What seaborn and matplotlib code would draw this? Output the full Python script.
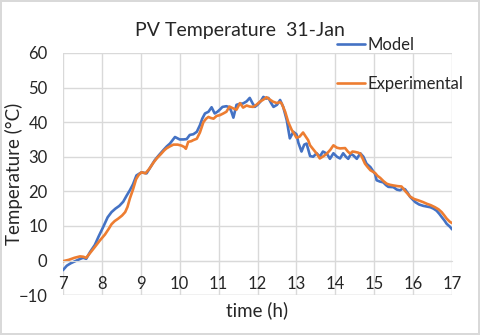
import matplotlib
matplotlib.use("Agg")
import matplotlib.pyplot as plt
import seaborn as sns
import pandas as pd

# ------------------------------------------------------------
# data
# ------------------------------------------------------------
model_time = [7.00, 7.10, 7.20, 7.35, 7.45, 7.52, 7.60, 7.70, 7.82, 7.92,
              8.04, 8.15, 8.25, 8.35, 8.45, 8.55, 8.64, 8.72, 8.80, 8.89,
              9.02, 9.15, 9.25, 9.36, 9.47, 9.58, 9.67, 9.75, 9.88, 10.00,
              10.10, 10.18, 10.26, 10.35, 10.44, 10.52, 10.58, 10.65, 10.74, 10.82,
              10.90, 10.97, 11.03, 11.10, 11.20, 11.28, 11.33, 11.38, 11.46, 11.55,
              11.63, 11.72, 11.80, 11.87, 11.93, 12.00, 12.08, 12.15, 12.22, 12.28,
              12.35, 12.41, 12.50, 12.58, 12.66, 12.75, 12.83, 12.92, 13.00, 13.05,
              13.13, 13.20, 13.26, 13.35, 13.43, 13.52, 13.60, 13.68, 13.78, 13.86,
              13.95, 14.04, 14.12, 14.20, 14.27, 14.33, 14.40, 14.46, 14.55, 14.64,
              14.72, 14.80, 14.90, 14.96, 15.02, 15.06, 15.15, 15.23, 15.30, 15.36,
              15.49, 15.58, 15.66, 15.73, 15.79, 15.86, 15.92, 16.05, 16.15, 16.26,
              16.35, 16.44, 16.52, 16.60, 16.67, 16.73, 16.80, 16.86, 16.94, 17.00]
model_temp = [-2.8, -1.5, -0.8, 0.0, 0.5, 0.8, 0.5, 2.5, 4.5, 7.0,
              9.8, 12.5, 14.0, 15.0, 15.8, 17.0, 18.8, 20.3, 22.0, 24.6,
              25.5, 25.2, 27.0, 29.0, 30.5, 31.9, 33.0, 33.8, 35.7, 35.0,
              35.0, 35.1, 36.3, 36.5, 37.2, 39.1, 41.0, 42.5, 43.0, 44.3,
              42.5, 43.0, 43.6, 44.4, 44.6, 44.3, 43.0, 41.3, 45.0, 45.3,
              45.4, 46.0, 47.0, 45.5, 44.4, 45.0, 46.0, 47.3, 46.8, 47.0,
              45.5, 44.4, 45.0, 46.4, 44.4, 40.6, 35.3, 37.2, 36.5, 34.0,
              31.5, 33.5, 33.8, 30.2, 30.0, 31.0, 30.0, 31.5, 30.9, 29.4,
              31.0, 30.0, 29.5, 31.0, 30.0, 29.4, 30.8, 30.4, 29.4, 31.0,
              30.0, 28.0, 27.0, 26.0, 25.0, 23.2, 22.8, 22.6, 21.8, 21.3,
              21.2, 20.5, 20.3, 20.8, 20.6, 19.5, 18.4, 16.9, 16.2, 15.8,
              15.6, 15.4, 15.0, 14.4, 13.5, 12.6, 11.6, 10.6, 9.8, 9.0]

exp_time = [7.00, 7.15, 7.30, 7.44, 7.52, 7.60, 7.70, 7.82, 7.95, 8.08,
            8.18, 8.25, 8.33, 8.42, 8.52, 8.60, 8.66, 8.72, 8.80, 8.88,
            8.95, 9.02, 9.12, 9.22, 9.32, 9.41, 9.52, 9.60, 9.66, 9.75,
            9.84, 9.95, 10.05, 10.12, 10.16, 10.22, 10.30, 10.35, 10.44, 10.52,
            10.61, 10.68, 10.74, 10.80, 10.87, 10.95, 11.03, 11.12, 11.20, 11.28,
            11.37, 11.46, 11.55, 11.63, 11.72, 11.80, 11.89, 11.97, 12.06, 12.15,
            12.23, 12.32, 12.40, 12.50, 12.58, 12.62, 12.71, 12.79, 12.88, 12.95,
            13.00, 13.08, 13.17, 13.24, 13.30, 13.35, 13.42, 13.52, 13.60, 13.70,
            13.78, 13.87, 13.95, 14.04, 14.12, 14.25, 14.32, 14.38, 14.44, 14.50,
            14.58, 14.64, 14.70, 14.76, 14.83, 14.90, 15.02, 15.08, 15.15, 15.24,
            15.32, 15.40, 15.49, 15.60, 15.70, 15.80, 15.92, 16.02, 16.13, 16.25,
            16.35, 16.45, 16.56, 16.65, 16.73, 16.80, 16.86, 16.94, 17.00]
exp_temp = [-0.2, 0.2, 0.8, 1.2, 1.1, 0.8, 2.2, 3.9, 5.8, 7.5,
            9.2, 10.5, 11.4, 12.1, 13.0, 14.0, 15.5, 17.9, 20.5, 23.5,
            24.8, 25.5, 25.2, 26.5, 28.2, 29.5, 30.8, 31.8, 32.4, 33.0,
            33.5, 33.5, 33.2, 32.8, 32.3, 34.3, 34.5, 34.8, 35.2, 37.0,
            40.0, 41.0, 41.5, 41.2, 41.0, 41.8, 42.0, 42.5, 43.0, 44.5,
            44.0, 43.6, 45.5, 44.2, 44.8, 44.5, 44.4, 45.0, 45.9, 46.5,
            47.2, 46.5, 45.9, 45.5, 45.8, 45.4, 43.0, 40.0, 37.7, 36.5,
            35.5, 35.8, 37.0, 35.8, 34.8, 33.3, 32.3, 30.9, 29.5, 30.2,
            30.9, 32.0, 33.3, 32.6, 32.4, 32.5, 31.5, 30.9, 31.5, 31.4,
            31.2, 30.9, 29.5, 28.0, 27.0, 26.1, 25.3, 24.5, 23.9, 22.9,
            22.2, 21.9, 21.7, 21.5, 21.4, 20.0, 18.5, 17.8, 17.4, 16.9,
            16.4, 16.0, 15.4, 14.8, 14.0, 13.0, 12.1, 11.2, 10.8]

x_ticks = list(range(7, 18))
y_ticks = list(range(-10, 61, 10))

df = pd.concat([
    pd.DataFrame({"time": model_time, "temp": model_temp, "series": "Model"}),
    pd.DataFrame({"time": exp_time, "temp": exp_temp, "series": "Experimental"}),
], ignore_index=True)

# ------------------------------------------------------------
# plot
# ------------------------------------------------------------
sns.set_style("white")
plt.rcParams["font.family"] = ["Lato", "DejaVu Sans"]

fig = plt.figure(figsize=(4.8, 3.35), dpi=100)
fig.patch.set_edgecolor("#D9D9D9")
fig.patch.set_linewidth(1.5)
ax = fig.add_axes([0.131, 0.119, 0.811, 0.723])

sns.lineplot(data=df, x="time", y="temp", hue="series", estimator=None,
             sort=False, palette={"Model": "#4472C4", "Experimental": "#ED7D31"},
             linewidth=1.9, ax=ax)

ax.set_xlim(7, 17)
ax.set_ylim(-10, 60)
ax.set_xticks(x_ticks)
ax.set_yticks(y_ticks)
ax.grid(True, color="#D9D9D9", linewidth=1)
ax.set_axisbelow(True)

for side in ["top", "right", "left"]:
    ax.spines[side].set_visible(False)
ax.spines["bottom"].set_position(("data", 0))
ax.spines["bottom"].set_color("#D9D9D9")
ax.axhline(-10, color="#D9D9D9", linewidth=1, zorder=0)

ax.tick_params(axis="x", length=0, pad=11, labelsize=12, colors="#262626")
ax.tick_params(axis="y", length=0, pad=11, labelsize=12, colors="#262626")

ax.set_xlabel("")
ax.set_ylabel("")
fig.text(0.536, 0.075, "time (h)", ha="center", va="center",
         fontsize=13.5, color="#262626")
fig.text(0.03, 0.48, "Temperature (°C)", ha="center", va="center",
         rotation=90, fontsize=13.5, color="#262626")

fig.text(0.5, 0.91, "PV Temperature  31-Jan", ha="center", va="center",
         fontsize=14, color="#262626")

handles, labels = ax.get_legend_handles_labels()
ax.legend(handles, labels, loc="upper left", bbox_to_anchor=(0.67, 0.935),
          bbox_transform=fig.transFigure, frameon=False, fontsize=12,
          labelspacing=1.4, handlelength=1.7, handletextpad=0.15,
          labelcolor="#262626")

fig.savefig("out.png", dpi=100)
